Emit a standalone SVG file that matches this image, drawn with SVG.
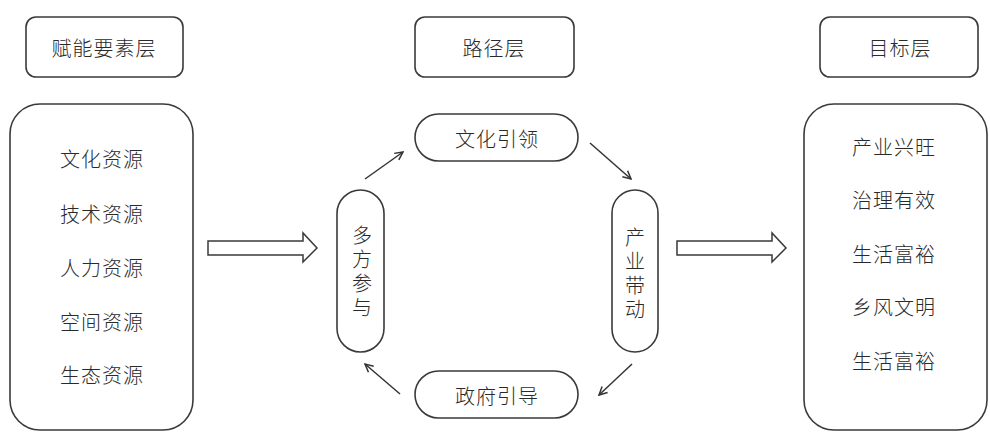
<svg xmlns="http://www.w3.org/2000/svg" width="990" height="432" viewBox="0 0 990 432">
<defs>
<style>
.box{fill:#fff;stroke:#3a3a3a;stroke-width:1.6}
.t{font-family:"Noto Sans CJK SC","Noto Sans CJK JP",sans-serif;font-size:20px;font-weight:300;fill:#2a2a2a;text-anchor:middle;dominant-baseline:central;letter-spacing:1px}
.v{font-family:"Noto Sans CJK SC","Noto Sans CJK JP",sans-serif;font-size:20px;font-weight:300;fill:#2a2a2a;text-anchor:middle;writing-mode:vertical-rl;letter-spacing:4px}
.con{fill:none;stroke:#333;stroke-width:1.5}
.big{fill:#fff;stroke:#3a3a3a;stroke-width:1.5}
</style>
<marker id="ah" viewBox="0 0 10 10" refX="9" refY="5" markerWidth="10" markerHeight="10" markerUnits="userSpaceOnUse" orient="auto">
<path d="M1,1 L9,5 L1,9" fill="none" stroke="#333" stroke-width="1.5"/>
</marker>
</defs>
<rect width="990" height="432" fill="#fff"/>

<g id="header-left">
<rect class="box" x="26" y="17" width="157" height="60" rx="10"/>
<text class="t" x="104" y="47">赋能要素层</text>
</g>
<g id="header-mid">
<rect class="box" x="415" y="17" width="159" height="60" rx="10"/>
<text class="t" x="494" y="47">路径层</text>
</g>
<g id="header-right">
<rect class="box" x="820" y="17" width="158" height="60" rx="10"/>
<text class="t" x="900" y="47">目标层</text>
</g>

<g id="resources">
<rect class="box" x="10" y="104" width="183" height="326" rx="30"/>
<text class="t" x="102" y="158">文化资源</text>
<text class="t" x="102" y="213">技术资源</text>
<text class="t" x="102" y="267">人力资源</text>
<text class="t" x="102" y="321">空间资源</text>
<text class="t" x="102" y="374">生态资源</text>
</g>

<g id="goals">
<rect class="box" x="804" y="104" width="183" height="326" rx="30"/>
<text class="t" x="894" y="146">产业兴旺</text>
<text class="t" x="894" y="199">治理有效</text>
<text class="t" x="894" y="253">生活富裕</text>
<text class="t" x="894" y="306">乡风文明</text>
<text class="t" x="894" y="360">生活富裕</text>
</g>

<g id="culture">
<rect class="box" x="415" y="114" width="163" height="47" rx="23.5"/>
<text class="t" x="497" y="138">文化引领</text>
</g>
<g id="industry">
<rect class="box" x="612" y="190" width="46" height="162" rx="23"/>
<text class="v" x="635" y="275">产业带动</text>
</g>
<g id="government">
<rect class="box" x="415" y="371" width="163" height="47" rx="23.5"/>
<text class="t" x="497" y="395">政府引导</text>
</g>
<g id="multi">
<rect class="box" x="337" y="190" width="47" height="162" rx="23.5"/>
<text class="v" x="362" y="273">多方参与</text>
</g>

<g id="connectors">
<polygon class="big" points="208,241 303,241 303,233 317,248 303,262 303,255 208,255"/>
<polygon class="big" points="677,241 772,241 772,233 786,248 772,262 772,255 677,255"/>
<line class="con" x1="365" y1="179" x2="403" y2="152" marker-end="url(#ah)"/>
<line class="con" x1="590" y1="143" x2="631" y2="179" marker-end="url(#ah)"/>
<line class="con" x1="632" y1="364" x2="599" y2="395" marker-end="url(#ah)"/>
<line class="con" x1="400" y1="394" x2="365" y2="364" marker-end="url(#ah)"/>
</g>
</svg>
